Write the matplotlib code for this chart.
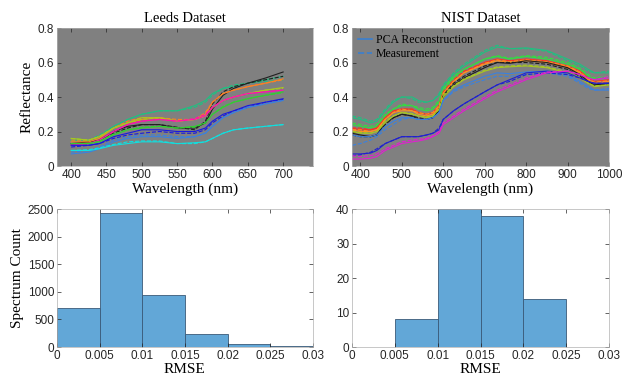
import matplotlib
matplotlib.use("Agg")
import matplotlib.pyplot as plt
import numpy as np

# ---- data ----
leeds_wl = [400, 425, 440, 460, 480, 500, 525, 550, 575, 590, 600, 615, 630, 650, 675, 700]
leeds_colors = ['#20c080', '#202020', '#ff8020', '#a8c820', '#ff10b0', '#30d030',
                '#1818e0', '#3a80e0', '#10e0e0']
leeds_pca = [
    [.15, .15, .17, .23, .27, .30, .32, .32, .35, .38, .42, .45, .46, .48, .50, .52],
    [.13, .14, .15, .20, .23, .24, .24, .22, .22, .25, .33, .41, .45, .48, .51, .545],
    [.14, .14, .16, .22, .25, .27, .28, .26, .27, .30, .37, .42, .44, .46, .48, .505],
    [.16, .15, .17, .22, .25, .28, .28, .26, .27, .29, .34, .38, .40, .42, .44, .455],
    [.12, .13, .15, .20, .24, .26, .27, .26, .27, .29, .34, .38, .40, .42, .43, .44],
    [.13, .13, .14, .18, .21, .22, .23, .22, .23, .25, .30, .34, .37, .39, .41, .43],
    [.12, .12, .13, .17, .19, .21, .21, .20, .20, .22, .26, .30, .32, .35, .37, .39],
    [.07, .08, .10, .14, .16, .17, .17, .16, .17, .19, .23, .28, .31, .34, .36, .38],
    [.09, .09, .10, .12, .13, .14, .14, .13, .135, .14, .16, .19, .21, .22, .23, .24],
]
leeds_meas = [
    [.16, .15, .18, .23, .27, .30, .32, .32, .34, .37, .41, .45, .47, .48, .49, .50],
    [.12, .13, .15, .19, .22, .24, .24, .225, .21, .26, .36, .43, .46, .48, .50, .52],
    [.15, .15, .17, .22, .26, .28, .28, .27, .27, .31, .37, .42, .44, .46, .48, .50],
    [.16, .15, .17, .22, .25, .27, .28, .26, .27, .29, .34, .38, .40, .42, .44, .45],
    [.12, .13, .15, .20, .24, .26, .27, .26, .275, .30, .34, .38, .40, .42, .43, .44],
    [.13, .13, .145, .185, .21, .225, .23, .22, .225, .25, .30, .345, .37, .39, .41, .425],
    [.11, .12, .13, .16, .18, .19, .20, .19, .19, .21, .25, .29, .32, .34, .37, .385],
    [.08, .09, .11, .15, .17, .18, .18, .17, .17, .19, .23, .28, .31, .34, .36, .38],
    [.09, .095, .105, .125, .14, .145, .145, .13, .13, .14, .16, .19, .21, .22, .23, .24],
]

nist_wl = [380, 400, 425, 440, 460, 480, 500, 525, 540, 560, 575, 590, 600, 625, 650,
           700, 730, 760, 800, 850, 900, 930, 950, 965, 1000]
nist_colors = ['#20c080', '#30e040', '#ff3020', '#ff9020', '#202020', '#a8c820',
               '#3a80e0', '#2020d0', '#e020d0']
nist_pca = [
    [.28, .27, .25, .26, .32, .37, .40, .40, .38, .37, .38, .41, .46, .53, .58, .66, .69, .68, .685, .67, .62, .59, .56, .54, .54],
    [.24, .23, .22, .23, .29, .33, .35, .35, .33, .32, .33, .37, .44, .51, .56, .62, .635, .62, .635, .62, .59, .56, .52, .50, .51],
    [.22, .21, .21, .22, .28, .32, .33, .33, .31, .30, .31, .35, .42, .49, .54, .60, .62, .61, .62, .61, .58, .55, .51, .49, .50],
    [.21, .20, .20, .21, .27, .31, .32, .32, .30, .29, .30, .34, .42, .49, .54, .59, .61, .60, .61, .60, .575, .54, .50, .48, .49],
    [.19, .18, .17, .18, .25, .28, .30, .29, .27, .27, .28, .32, .40, .47, .51, .57, .60, .595, .61, .60, .57, .53, .49, .47, .48],
    [.20, .19, .19, .20, .25, .29, .31, .30, .29, .28, .29, .33, .40, .46, .50, .55, .57, .575, .58, .57, .54, .51, .48, .46, .47],
    [.18, .17, .17, .18, .23, .26, .28, .28, .27, .27, .28, .31, .38, .44, .47, .52, .54, .535, .545, .55, .53, .49, .46, .44, .44],
    [.07, .07, .075, .09, .13, .15, .17, .17, .17, .18, .19, .21, .27, .32, .36, .43, .47, .50, .54, .55, .54, .51, .49, .48, .48],
    [.04, .04, .045, .055, .09, .11, .13, .14, .145, .155, .17, .19, .24, .28, .32, .39, .43, .46, .50, .54, .55, .53, .51, .50, .51],
]
nist_meas = [
    [.29, .28, .26, .27, .33, .38, .40, .39, .37, .37, .38, .42, .47, .54, .59, .67, .70, .68, .68, .665, .61, .58, .55, .54, .55],
    [.25, .24, .23, .24, .30, .33, .36, .35, .34, .33, .34, .38, .45, .52, .56, .62, .64, .625, .64, .63, .60, .565, .53, .51, .52],
    [.22, .22, .21, .22, .27, .31, .33, .33, .31, .30, .31, .35, .43, .50, .55, .60, .615, .60, .615, .60, .57, .54, .50, .48, .49],
    [.21, .21, .20, .21, .27, .31, .33, .32, .31, .30, .31, .35, .42, .49, .54, .595, .615, .605, .615, .605, .58, .545, .505, .485, .495],
    [.18, .17, .17, .18, .24, .28, .30, .29, .28, .27, .28, .33, .41, .48, .52, .58, .60, .60, .60, .59, .56, .52, .48, .47, .47],
    [.20, .195, .19, .20, .26, .29, .31, .305, .29, .285, .29, .33, .41, .465, .505, .555, .575, .58, .585, .575, .545, .51, .48, .465, .47],
    [.12, .13, .15, .17, .21, .24, .27, .28, .27, .27, .28, .31, .38, .43, .46, .50, .52, .52, .53, .54, .52, .48, .45, .44, .45],
    [.06, .065, .08, .10, .13, .15, .17, .17, .17, .18, .19, .22, .27, .32, .36, .43, .47, .49, .53, .54, .53, .51, .49, .48, .48],
    [.06, .055, .06, .07, .10, .12, .14, .15, .155, .16, .175, .20, .25, .29, .33, .40, .44, .47, .51, .545, .55, .53, .51, .50, .52],
]

rmse_edges = [0, 0.005, 0.01, 0.015, 0.02, 0.025, 0.03]
leeds_counts = [700, 2430, 940, 230, 55, 15]
nist_counts = [0, 8, 40, 38, 14, 0]

refl_ticks = [0, 0.2, 0.4, 0.6, 0.8]
refl_labels = ['0', '0.2', '0.4', '0.6', '0.8']
rmse_ticks = [0, 0.005, 0.01, 0.015, 0.02, 0.025, 0.03]
rmse_labels = ['0', '0.005', '0.01', '0.015', '0.02', '0.025', '0.03']
leeds_cnt_ticks = [0, 500, 1000, 1500, 2000, 2500]
nist_cnt_ticks = [0, 10, 20, 30, 40]

# ---- styling ----
serif = ['Liberation Serif', 'DejaVu Serif']
plt.rcParams['font.family'] = ['Liberation Sans', 'DejaVu Sans']
plt.rcParams['font.size'] = 8.5
axc = '#262626'

fig = plt.figure(figsize=(6.3, 3.76), dpi=100)
ax_l = fig.add_axes([0.0905, 0.5585, 0.406, 0.367])
ax_n = fig.add_axes([0.5587, 0.5585, 0.408, 0.367])
ax_hl = fig.add_axes([0.0905, 0.0771, 0.406, 0.367])
ax_hn = fig.add_axes([0.5587, 0.0771, 0.408, 0.367])


def style(ax):
    ax.tick_params(direction='in', top=True, right=True, length=3, width=0.5,
                   colors=axc, labelsize=8.5, pad=2)
    for s in ax.spines.values():
        s.set_linewidth(0.5)
        s.set_color('#b0b0b0')


# spectra
for ax, wl, pca, meas, cols, xl, title in [
        (ax_l, leeds_wl, leeds_pca, leeds_meas, leeds_colors, (380, 742), 'Leeds Dataset'),
        (ax_n, nist_wl, nist_pca, nist_meas, nist_colors, (380, 1000), 'NIST Dataset')]:
    ax.set_facecolor('#808080')
    for p, m, c in zip(pca, meas, cols):
        ax.plot(wl, p, '-', color=c, lw=0.8)
        ax.plot(wl, m, '--', color=c, lw=0.8)
    ax.set_xlim(*xl)
    ax.set_ylim(0, 0.8)
    ax.set_yticks(refl_ticks)
    ax.set_yticklabels(refl_labels)
    ax.set_title(title, family=serif, fontsize=10.5, pad=4)
    ax.set_xlabel('Wavelength (nm)', family=serif, fontsize=11, labelpad=1)
    style(ax)

ax_l.set_xticks([400, 450, 500, 550, 600, 650, 700])
ax_n.set_xticks([400, 500, 600, 700, 800, 900, 1000])
ax_l.set_ylabel('Reflectance', family=serif, fontsize=11, labelpad=3)

leg_h = [plt.Line2D([], [], color='#3a7fd0', lw=1.2, ls='-'),
         plt.Line2D([], [], color='#3a7fd0', lw=1.2, ls='--')]
ax_n.legend(leg_h, ['PCA Reconstruction', 'Measurement'], loc='upper left',
            frameon=False, prop={'family': serif, 'size': 8.5}, handlelength=1.2,
            handletextpad=0.3, borderaxespad=0.1, labelspacing=0.2)

# histograms
for ax, counts, yt in [(ax_hl, leeds_counts, leeds_cnt_ticks),
                       (ax_hn, nist_counts, nist_cnt_ticks)]:
    ax.bar(rmse_edges[:-1], counts, width=0.005, align='edge',
           color='#62a7d7', edgecolor='#3a5a78', linewidth=0.6)
    ax.set_xlim(0, 0.03)
    ax.set_ylim(0, yt[-1])
    ax.set_yticks(yt)
    ax.set_xticks(rmse_ticks)
    ax.set_xticklabels(rmse_labels)
    ax.set_xlabel('RMSE', family=serif, fontsize=11, labelpad=1)
    style(ax)

ax_hl.set_ylabel('Spectrum Count', family=serif, fontsize=11, labelpad=3)

fig.savefig('out.png', dpi=100)
